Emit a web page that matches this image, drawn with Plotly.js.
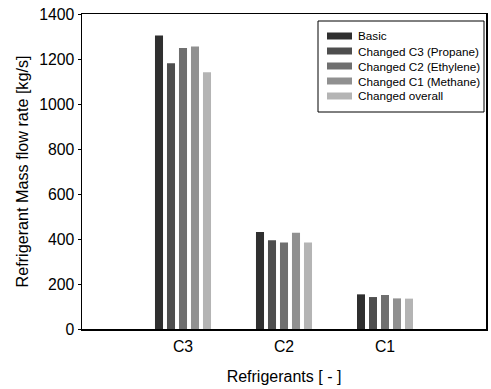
<!DOCTYPE html>
<html>
<head>
<meta charset="utf-8">
<script src="https://cdn.plot.ly/plotly-3.0.1.min.js"></script>
<style>html,body{margin:0;padding:0;background:#fff;}#chart{width:491px;height:389px;}</style>
</head>
<body>
<div id="chart"></div>
<script>
var categories = ["C3", "C2", "C1"];
var seriesNames = ["Basic", "Changed C3 (Propane)", "Changed C2 (Ethylene)", "Changed C1 (Methane)", "Changed overall"];
var basic    = [1305, 431, 154];
var propane  = [1181, 395, 142];
var ethylene = [1249, 385, 151];
var methane  = [1256, 428, 136];
var overall  = [1141, 385, 135];
var seriesValues = [basic, propane, ethylene, methane, overall];
var colors = ["#2f2f2f", "#4e4e4e", "#6f6f6f", "#909090", "#b4b4b4"];
var yTicks = [0, 200, 400, 600, 800, 1000, 1200, 1400];

var font = "Liberation Sans, Arial, sans-serif";
var W = 491, H = 389, mL = 82, mR = 5, mT = 14, mB = 60;
var pw = W - mL - mR, ph = H - mT - mB;
function px(x){ return (x - mL) / pw; }
function py(y){ return (H - mB - y) / ph; }

var traces = seriesNames.map(function(name, i){
  return {
    type: "bar",
    name: name,
    x: categories.map(function(c, k){ return k; }),
    y: seriesValues[i],
    marker: {color: colors[i], line: {width: 0}},
    showlegend: false,
    hoverinfo: "skip"
  };
});

var shapes = [{
  type: "rect", xref: "paper", yref: "paper",
  x0: px(318), x1: px(484), y0: py(112), y1: py(21),
  line: {color: "#000", width: 1}, fillcolor: "#fff", layer: "above"
}];
var annotations = [];
seriesNames.forEach(function(name, i){
  var cy = 36 + 15 * i;
  shapes.push({
    type: "rect", xref: "paper", yref: "paper",
    x0: px(327), x1: px(352), y0: py(cy + 3.5), y1: py(cy - 3.5),
    line: {width: 0}, fillcolor: colors[i], layer: "above"
  });
  annotations.push({
    xref: "paper", yref: "paper", x: px(356), y: py(cy),
    xanchor: "left", yanchor: "middle", showarrow: false,
    text: name, font: {family: font, size: 11.7, color: "#000"}
  });
});

var layout = {
  width: W, height: H,
  margin: {l: mL, r: mR, t: mT, b: mB, pad: 0},
  paper_bgcolor: "#fff", plot_bgcolor: "#fff",
  barmode: "group", bargap: 0.406, bargroupgap: 0.33,
  font: {family: font, color: "#000"},
  xaxis: {
    range: [-1, 3],
    tickmode: "array",
    tickvals: categories.map(function(c, k){ return k; }),
    ticktext: categories,
    ticks: "", showgrid: false, zeroline: false,
    showline: true, linecolor: "#000", linewidth: 1.5, mirror: true,
    tickfont: {family: font, size: 15.8, color: "#000"},
    ticklabelstandoff: 3,
    title: {text: "Refrigerants [ - ]", font: {family: font, size: 16, color: "#000"}, standoff: 16}
  },
  yaxis: {
    range: [0, 1400],
    tickmode: "array", tickvals: yTicks, ticktext: yTicks.map(String),
    ticks: "outside", ticklen: 3, tickcolor: "#000",
    showgrid: false, zeroline: false,
    showline: true, linecolor: "#000", linewidth: 1.5, mirror: true,
    tickfont: {family: font, size: 15.8, color: "#000"},
    ticklabelstandoff: 0,
    title: {text: "Refrigerant Mass flow rate [kg/s]", font: {family: font, size: 16.2, color: "#000"}, standoff: 6}
  },
  shapes: shapes,
  annotations: annotations,
  showlegend: false
};

Plotly.newPlot("chart", traces, layout, {displayModeBar: false, staticPlot: true});
</script>
</body>
</html>
